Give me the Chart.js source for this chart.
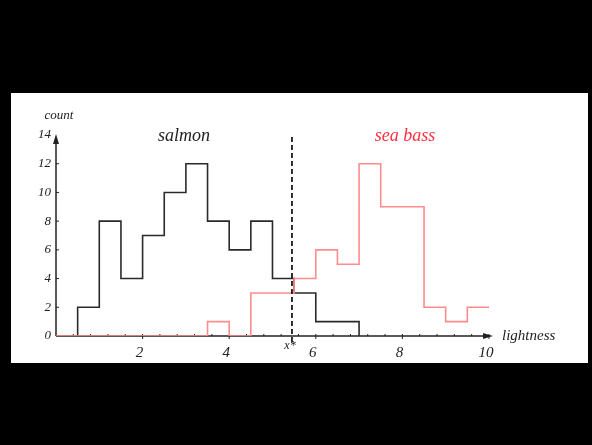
<!DOCTYPE html>
<html><head><meta charset="utf-8">
<script src="https://cdn.jsdelivr.net/npm/chart.js@4.4.1/dist/chart.umd.min.js"></script>
<style>html,body{margin:0;padding:0;background:#000;}#wrap{position:absolute;left:0;top:0;width:592px;height:445px;}</style>
</head><body><div id="wrap"><canvas id="c" width="592" height="445"></canvas></div>
<script>
// Histogram bin edges and counts
const salmonEdges  = [0.5, 1, 1.5, 2, 2.5, 3, 3.5, 4, 4.5, 5, 5.5, 6, 7];
const salmonCounts = [2, 8, 4, 7, 10, 12, 8, 6, 8, 4, 3, 1];
const bassEdges    = [0, 3.5, 4, 4.5, 5.5, 6, 6.5, 7, 7.5, 8.5, 9, 9.5, 10];
const bassCounts   = [0, 1, 0, 3, 4, 6, 5, 12, 9, 2, 1, 2];
const xTickValues  = [2, 4, 6, 8, 10];
const yTickValues  = [0, 2, 4, 6, 8, 10, 12, 14];
const decisionX    = 5.45;

function stepPoints(edges, counts, endValue, startFromZero) {
  const pts = [];
  if (startFromZero) pts.push({x: edges[0], y: 0});
  edges.forEach((e, i) => pts.push({x: e, y: i < counts.length ? counts[i] : endValue}));
  return pts;
}
const salmonPts = stepPoints(salmonEdges, salmonCounts, 0, true);
const bassPts = stepPoints(bassEdges, bassCounts, bassCounts[bassCounts.length - 1], false);

const SERIF = '"Liberation Serif", "DejaVu Serif", serif';
const RED_TEXT = '#ff2f3f';
const RED_LINE = '#ff8c8c';
const INK = '#222';

const decor = {
  id: 'decor',
  beforeDraw(chart) {
    const ctx = chart.ctx;
    ctx.save();
    ctx.fillStyle = '#000';
    ctx.fillRect(0, 0, chart.width, chart.height);
    ctx.fillStyle = '#fff';
    ctx.fillRect(11, 93, 577, 270);
    ctx.restore();
  },
  beforeDatasetsDraw(chart) {
    const ctx = chart.ctx, xs = chart.scales.x, ys = chart.scales.y;
    const x0 = xs.getPixelForValue(0), y0 = ys.getPixelForValue(0);
    const xEnd = xs.right, yTop = ys.getPixelForValue(14);
    ctx.save();
    ctx.strokeStyle = INK; ctx.fillStyle = INK; ctx.lineWidth = 1.5;
    ctx.beginPath(); ctx.moveTo(x0, y0); ctx.lineTo(xEnd - 4, y0); ctx.stroke();
    ctx.beginPath(); ctx.moveTo(xEnd + 1, y0); ctx.lineTo(xEnd - 9, y0 - 3); ctx.lineTo(xEnd - 9, y0 + 3); ctx.closePath(); ctx.fill();
    ctx.beginPath(); ctx.moveTo(x0, y0); ctx.lineTo(x0, yTop + 4); ctx.stroke();
    ctx.beginPath(); ctx.moveTo(x0, yTop - 1); ctx.lineTo(x0 - 3, yTop + 9); ctx.lineTo(x0 + 3, yTop + 9); ctx.closePath(); ctx.fill();
    ctx.lineWidth = 1;
    for (let k = 1; k * 0.4 <= 10.001; k++) {
      const v = k * 0.4, px = xs.getPixelForValue(v);
      const major = Math.abs(v - Math.round(v)) < 1e-6 && Math.round(v) % 2 === 0;
      ctx.beginPath(); ctx.moveTo(px, y0 - 2); ctx.lineTo(px, y0 + (major ? 3 : 0)); ctx.stroke();
    }
    yTickValues.forEach(v => { if (v > 0 && v < 14) { const py = ys.getPixelForValue(v); ctx.beginPath(); ctx.moveTo(x0, py); ctx.lineTo(x0 + 3, py); ctx.stroke(); } });
    ctx.restore();
  },
  afterDatasetsDraw(chart) {
    const ctx = chart.ctx, xs = chart.scales.x, ys = chart.scales.y;
    const px = xs.getPixelForValue(decisionX);
    ctx.save();
    ctx.strokeStyle = '#000'; ctx.lineWidth = 1.6; ctx.setLineDash([5, 3]);
    ctx.beginPath(); ctx.moveTo(px, ys.getPixelForValue(0) + 6); ctx.lineTo(px, ys.getPixelForValue(14)); ctx.stroke();
    ctx.setLineDash([]);
    ctx.textBaseline = 'middle';
    ctx.fillStyle = INK;
    ctx.font = 'italic 13px ' + SERIF; ctx.textAlign = 'center';
    ctx.fillText('count', 59, 116);
    ctx.font = 'italic 12px ' + SERIF;
    ctx.fillText('x*', px - 2, 346);
    ctx.font = 'italic 18px ' + SERIF;
    ctx.fillText('salmon', 184, 136);
    ctx.fillStyle = RED_TEXT;
    ctx.fillText('sea bass', 405, 136);
    ctx.fillStyle = INK; ctx.textAlign = 'left';
    ctx.font = 'italic 15px ' + SERIF;
    ctx.fillText('lightness', 502, 336);
    ctx.restore();
  }
};

new Chart(document.getElementById('c'), {
  type: 'line',
  data: {
    datasets: [
      { label: 'sea bass', data: bassPts, stepped: 'before', borderColor: RED_LINE, borderWidth: 1.6, pointRadius: 0, fill: false },
      { label: 'salmon', data: salmonPts, stepped: 'before', borderColor: '#2a2a2a', borderWidth: 1.6, pointRadius: 0, fill: false }
    ]
  },
  options: {
    responsive: false, animation: false, devicePixelRatio: 1,
    layout: { padding: { left: 10, top: 135, right: 100, bottom: 79 } },
    plugins: { legend: { display: false }, tooltip: { enabled: false } },
    scales: {
      x: {
        type: 'linear', min: 0, max: 10.07,
        afterBuildTicks: s => { s.ticks = xTickValues.map(v => ({value: v})); },
        afterFit: s => { s.height = 30; },
        grid: { display: false, drawTicks: false }, border: { display: false },
        ticks: { color: INK, font: { family: SERIF, size: 15, style: 'italic' }, padding: 8, labelOffset: -3, maxRotation: 0, autoSkip: false }
      },
      y: {
        min: 0, max: 14,
        afterBuildTicks: s => { s.ticks = yTickValues.map(v => ({value: v})); },
        afterFit: s => { s.width = 46; },
        grid: { display: false, drawTicks: false }, border: { display: false },
        ticks: { color: INK, font: { family: SERIF, size: 13, style: 'italic' }, padding: 5 }
      }
    }
  },
  plugins: [decor]
});
</script></body></html>
